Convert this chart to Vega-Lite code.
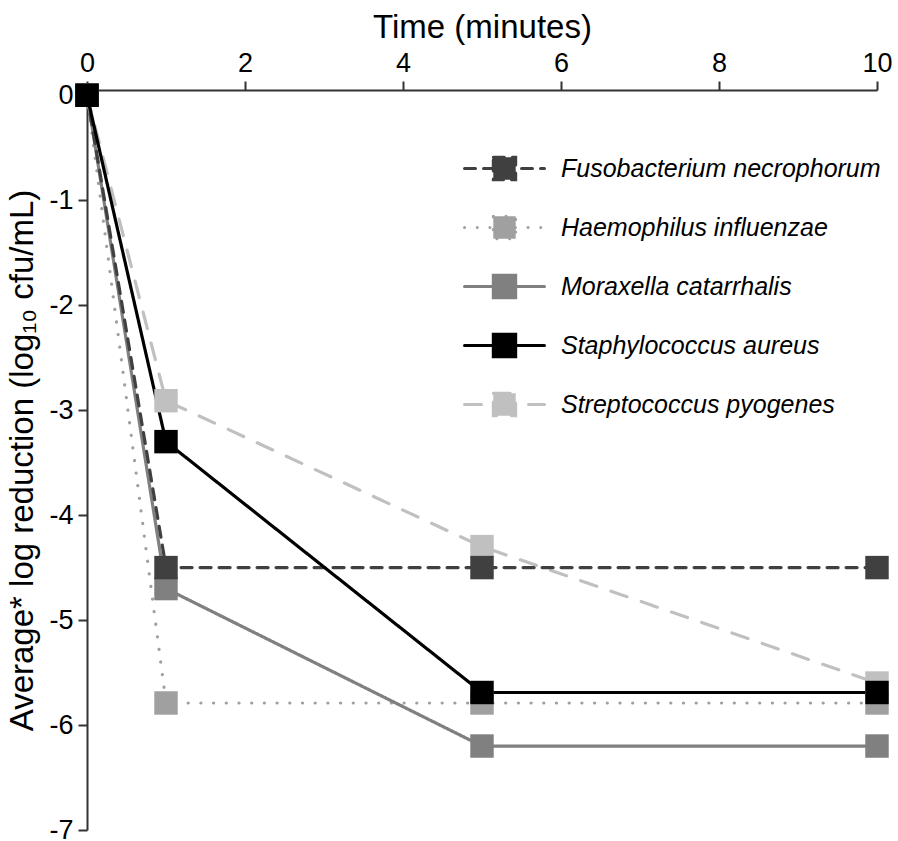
{
  "$schema": "https://vega.github.io/schema/vega-lite/v6.json",
  "width": 790,
  "height": 740,
  "autosize": {"type": "none"},
  "padding": {"left": 87, "top": 90, "right": 21, "bottom": 11},
  "background": "white",
  "config": {
    "font": "Liberation Sans",
    "view": {"stroke": null},
    "axis": {
      "grid": false,
      "domainColor": "#333333",
      "domainWidth": 2,
      "tickColor": "#333333",
      "tickWidth": 2,
      "tickSize": 9,
      "labelFontSize": 27,
      "labelColor": "black",
      "labelFlush": false,
      "labelOverlap": false,
      "titleFontSize": 33,
      "titleFontWeight": "normal",
      "titleColor": "black",
      "labelFont": "Liberation Sans",
      "titleFont": "Liberation Sans",
      "labelExpr": "replace(datum.label, '−', '-')"
    }
  },
  "data": {
    "values": [
      {"species": "Streptococcus pyogenes", "time": 0, "value": 0},
      {"species": "Streptococcus pyogenes", "time": 1, "value": -2.91},
      {"species": "Streptococcus pyogenes", "time": 5, "value": -4.3},
      {"species": "Streptococcus pyogenes", "time": 10, "value": -5.6},
      {"species": "Haemophilus influenzae", "time": 0, "value": 0},
      {"species": "Haemophilus influenzae", "time": 1, "value": -5.79},
      {"species": "Haemophilus influenzae", "time": 5, "value": -5.79},
      {"species": "Haemophilus influenzae", "time": 10, "value": -5.79},
      {"species": "Moraxella catarrhalis", "time": 0, "value": 0},
      {"species": "Moraxella catarrhalis", "time": 1, "value": -4.7},
      {"species": "Moraxella catarrhalis", "time": 5, "value": -6.2},
      {"species": "Moraxella catarrhalis", "time": 10, "value": -6.2},
      {"species": "Fusobacterium necrophorum", "time": 0, "value": 0},
      {"species": "Fusobacterium necrophorum", "time": 1, "value": -4.5},
      {"species": "Fusobacterium necrophorum", "time": 5, "value": -4.5},
      {"species": "Fusobacterium necrophorum", "time": 10, "value": -4.5},
      {"species": "Staphylococcus aureus", "time": 0, "value": 0},
      {"species": "Staphylococcus aureus", "time": 1, "value": -3.3},
      {"species": "Staphylococcus aureus", "time": 5, "value": -5.69},
      {"species": "Staphylococcus aureus", "time": 10, "value": -5.69}
    ]
  },
  "encoding": {
    "x": {
      "field": "time",
      "type": "quantitative",
      "scale": {"domain": [0, 10], "nice": false, "zero": false},
      "axis": {
        "orient": "top",
        "values": [0, 2, 4, 6, 8, 10],
        "title": "Time (minutes)",
        "labelPadding": 4,
        "titlePadding": 5
      }
    },
    "y": {
      "field": "value",
      "type": "quantitative",
      "scale": {"domain": [-7, 0.05], "nice": false, "zero": false},
      "axis": {
        "values": [-7, -6, -5, -4, -3, -2, -1, 0],
        "title": "Average* log reduction (log₁₀ cfu/mL)",
        "labelPadding": 5,
        "titlePadding": 9
      }
    },
    "color": {
      "field": "species",
      "type": "nominal",
      "scale": {
        "domain": ["Fusobacterium necrophorum", "Haemophilus influenzae", "Moraxella catarrhalis", "Staphylococcus aureus", "Streptococcus pyogenes"],
        "range": ["#404040", "#a0a0a0", "#808080", "#000000", "#c0c0c0"]
      },
      "legend": {
        "orient": "none",
        "legendX": 376,
        "legendY": 37,
        "title": null,
        "symbolType": "M-1,0L1,0M-0.28,-0.28L0.28,-0.28L0.28,0.28L-0.28,0.28Z",
        "symbolSize": 6400,
        "symbolStrokeWidth": 3,
        "labelFont": "Liberation Sans",
        "labelFontStyle": "italic",
        "labelFontSize": 25,
        "labelColor": "black",
        "labelOffset": 15,
        "rowPadding": -8,
        "labelLimit": 500,
        "encode": {
          "symbols": {
            "update": {
              "fill": {"scale": "color", "field": "value"},
              "strokeCap": {"value": "round"}
            }
          }
        }
      }
    }
  },
  "layer": [
    {
      "mark": {"type": "line", "strokeWidth": 3.2, "strokeCap": "round"},
      "encoding": {
        "strokeDash": {
          "field": "species",
          "type": "nominal",
          "scale": {
            "domain": ["Fusobacterium necrophorum", "Haemophilus influenzae", "Moraxella catarrhalis", "Staphylococcus aureus", "Streptococcus pyogenes"],
            "range": [[11, 8], [0.1, 12.6], [1, 0], [1, 0], [17, 15]]
          }
        }
      }
    },
    {
      "mark": {"type": "point", "shape": "square", "filled": true, "size": 550, "opacity": 1}
    }
  ]
}
